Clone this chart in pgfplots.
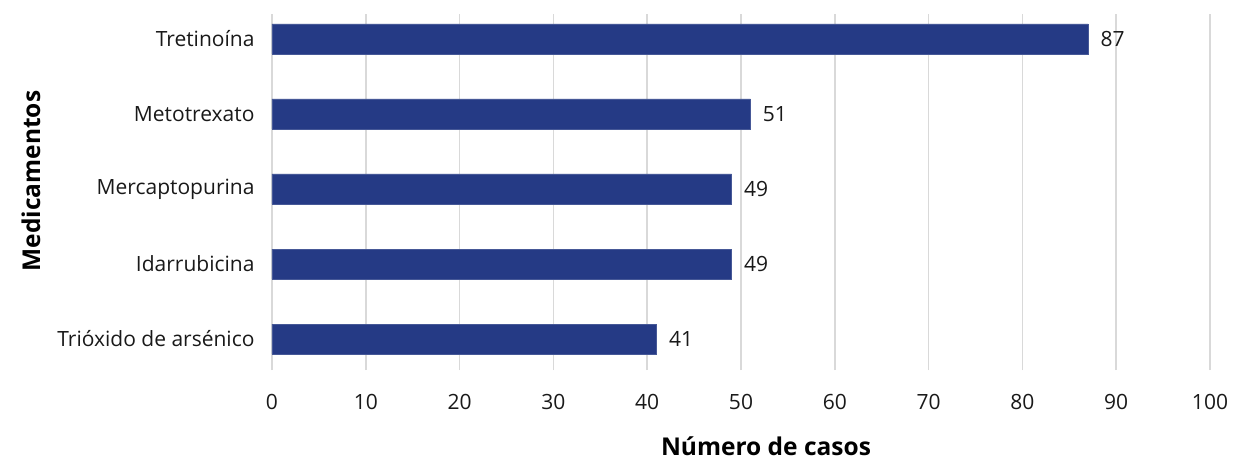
\documentclass[border=0pt]{standalone}
\usepackage{pgfplots}
\pgfplotsset{compat=1.18}
\usepackage{fontspec}
\setmainfont{Open Sans}
\definecolor{barblue}{HTML}{253A85}
\definecolor{gridgray}{HTML}{D9D9D9}
\begin{document}
\begin{tikzpicture}
\path[use as bounding box] (-272pt,-91pt) rectangle (968pt,370pt);
\begin{axis}[
  at={(0pt,0pt)}, anchor=south west,
  scale only axis, width=938pt, height=356pt,
  xbar, bar width=0.4,
  xmin=0, xmax=100, ymin=-0.413, ymax=4.333,
  xtick={0,10,...,100},
  ytick={0,1,2,3,4},
  yticklabels={Trióxido de arsénico, Idarrubicina, Mercaptopurina, Metotrexato, Tretinoína},
  axis line style={draw=none},
  major tick length=0pt,
  xmajorgrids, grid style={gridgray, line width=1.5pt},
  /pgf/number format/assume math mode=true,
  ticklabel style={font=\fontsize{21}{25}\selectfont, text=black!90},
  xticklabel style={yshift=-21pt},
  yticklabel style={xshift=-14pt},
  nodes near coords,
  nodes near coords style={font=\fontsize{21}{25}\selectfont, anchor=west, xshift=9pt, text=black!90},
  point meta=x,
]
\addplot[fill=barblue, draw=barblue!85!white, line width=0.5pt] coordinates {
  (41,0) (49,1) (49,2) (51,3) (87,4)
};
\end{axis}
\node[font=\bfseries\fontsize{24.5}{28}\selectfont, anchor=base] at (494pt,-85pt) {Número de casos};
\node[font=\bfseries\fontsize{24.5}{28}\selectfont, rotate=90] at (-241pt,189pt) {Medicamentos};
\end{tikzpicture}
\end{document}
